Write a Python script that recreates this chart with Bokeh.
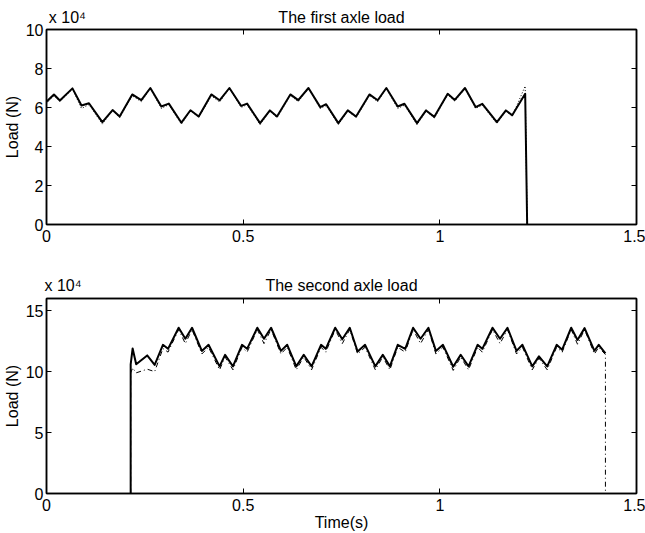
from bokeh.plotting import figure
from bokeh.layouts import column
from bokeh.models import FixedTicker, CustomJSTickFormatter, LinearAxis, Range1d
from bokeh.embed import file_html
from bokeh.resources import INLINE

# ---------------- data (loads in units of 1e4 N) ----------------
x_ticks = [0, 0.5, 1, 1.5]
y1_ticks = [0, 2, 4, 6, 8, 10]
y2_ticks = [0, 5, 10, 15]
titles = ["The first axle load", "The second axle load"]
exponent = "x 10\u2074"
y_label = "Load (N)"
x_label = "Time(s)"

t1 = [0.0, 0.019, 0.034, 0.066, 0.089, 0.108, 0.142, 0.168, 0.186,
      0.218, 0.241, 0.264, 0.292, 0.311, 0.343, 0.366, 0.387,
      0.419, 0.44, 0.465, 0.495, 0.51, 0.543, 0.568, 0.586,
      0.62, 0.64, 0.666, 0.696, 0.711, 0.742, 0.766, 0.787,
      0.821, 0.842, 0.864, 0.893, 0.91, 0.942, 0.965, 0.986,
      1.02, 1.038, 1.064, 1.091, 1.108, 1.145, 1.168, 1.184,
      1.217, 1.222]
load1 = [6.3, 6.67, 6.36, 6.98, 6.1, 6.22, 5.25, 5.87, 5.54,
         6.67, 6.38, 7.0, 6.05, 6.2, 5.22, 5.86, 5.54,
         6.67, 6.37, 7.0, 6.08, 6.2, 5.2, 5.85, 5.54,
         6.67, 6.38, 7.0, 6.02, 6.17, 5.2, 5.85, 5.54,
         6.67, 6.37, 7.0, 6.05, 6.19, 5.2, 5.85, 5.52,
         6.7, 6.39, 7.0, 6.02, 6.19, 5.25, 5.85, 5.6,
         6.7, 0.0]
load1_id = [6.2, 6.6, 6.3, 6.95, 5.95, 6.15, 5.15, 5.85, 5.48,
            6.6, 6.3, 6.98, 5.95, 6.15, 5.15, 5.85, 5.48,
            6.6, 6.28, 6.98, 6.0, 6.15, 5.12, 5.82, 5.48,
            6.62, 6.3, 6.98, 5.95, 6.1, 5.12, 5.82, 5.48,
            6.62, 6.3, 6.98, 5.95, 6.12, 5.12, 5.82, 5.46,
            6.65, 6.32, 6.98, 5.95, 6.12, 5.18, 5.82, 5.55,
            7.1, 0.0]

t2 = [0.214, 0.214, 0.219, 0.228, 0.256, 0.275, 0.296, 0.309,
      0.336, 0.353, 0.37, 0.395, 0.412, 0.44, 0.454, 0.474, 0.497, 0.51,
      0.536, 0.553, 0.571, 0.596, 0.612, 0.635, 0.654, 0.674, 0.698, 0.71,
      0.734, 0.752, 0.771, 0.791, 0.81, 0.836, 0.855, 0.873, 0.893, 0.912,
      0.932, 0.951, 0.971, 0.99, 1.008, 1.034, 1.053, 1.073, 1.096, 1.108,
      1.134, 1.153, 1.172, 1.195, 1.21, 1.235, 1.252, 1.273, 1.297, 1.311,
      1.334, 1.35, 1.368, 1.393, 1.404, 1.421]
load2 = [0.0, 10.6, 11.9, 10.6, 11.33, 10.55, 12.2, 11.87,
         13.6, 12.7, 13.6, 11.7, 12.2, 10.43, 11.38, 10.43, 12.2, 11.87,
         13.6, 12.7, 13.6, 11.7, 12.2, 10.43, 11.38, 10.43, 12.2, 11.87,
         13.6, 12.65, 13.6, 11.65, 12.2, 10.43, 11.38, 10.43, 12.2, 11.87,
         13.6, 12.7, 13.6, 11.7, 12.2, 10.4, 11.38, 10.43, 12.2, 11.87,
         13.6, 12.7, 13.6, 11.7, 12.2, 10.43, 11.25, 10.43, 12.2, 11.8,
         13.6, 12.6, 13.57, 11.71, 12.2, 11.5]
t2_id = t2 + [1.421]
load2_id = [0.0, 9.9, 10.3, 9.9, 10.2, 10.0, 11.9, 11.6,
            13.45, 12.3, 13.45, 11.45, 12.0, 10.15, 11.2, 10.15, 12.0, 11.6,
            13.45, 12.3, 13.45, 11.45, 12.0, 10.15, 11.2, 10.15, 12.0, 11.6,
            13.45, 12.3, 13.45, 11.45, 12.0, 10.15, 11.2, 10.15, 12.0, 11.6,
            13.45, 12.3, 13.45, 11.45, 12.0, 10.1, 11.2, 10.15, 12.0, 11.6,
            13.45, 12.3, 13.45, 11.45, 12.0, 10.15, 11.1, 10.15, 12.0, 11.6,
            13.45, 12.25, 13.45, 11.45, 12.0, 11.4, 0.0]

FONT = "Liberation Sans"
fmt_code = "return tick.toString();"


def style_axis(ax, ticks, show_labels=True):
    ax.ticker = FixedTicker(ticks=ticks)
    ax.major_tick_in = 5
    ax.major_tick_out = 0
    ax.minor_tick_line_color = None
    ax.axis_line_color = "black"
    ax.axis_line_width = 1.5
    ax.major_tick_line_color = "black"
    ax.major_tick_line_width = 1
    if show_labels:
        ax.formatter = CustomJSTickFormatter(code=fmt_code)
        ax.major_label_text_font = FONT
        ax.major_label_text_font_size = "16px"
        ax.major_label_text_color = "black"
    else:
        ax.major_label_text_font_size = "0px"
        ax.major_label_text_color = None
        ax.major_label_standoff = 0


def make(height, top, bottom, yend, yticks, title, exp_x, xlabel, head_standoff):
    p = figure(width=645, height=height, output_backend="svg", toolbar_location=None,
               x_range=Range1d(0, 1.5), y_range=Range1d(0, yend),
               min_border_left=45, min_border_right=9,
               min_border_top=top, min_border_bottom=bottom)
    p.grid.visible = False
    p.outline_line_color = "black"
    p.outline_line_width = 1.5
    p.background_fill_color = "white"
    p.border_fill_color = "white"

    style_axis(p.xaxis[0], x_ticks)
    p.xaxis[0].major_label_standoff = 5
    style_axis(p.yaxis[0], yticks)
    p.yaxis[0].major_label_standoff = 3
    p.yaxis[0].axis_label = y_label
    p.yaxis[0].axis_label_text_font = FONT
    p.yaxis[0].axis_label_text_font_size = "16px"
    p.yaxis[0].axis_label_text_font_style = "normal"
    p.yaxis[0].axis_label_text_color = "black"
    p.yaxis[0].axis_label_standoff = 2
    if xlabel:
        p.xaxis[0].axis_label = xlabel
        p.xaxis[0].axis_label_text_font = FONT
        p.xaxis[0].axis_label_text_font_size = "16px"
        p.xaxis[0].axis_label_text_font_style = "normal"
        p.xaxis[0].axis_label_text_color = "black"
        p.xaxis[0].axis_label_standoff = 0

    # MATLAB-style box ticks on right and top
    ra = LinearAxis()
    style_axis(ra, yticks, show_labels=False)
    p.add_layout(ra, "right")
    ta = LinearAxis()
    style_axis(ta, x_ticks, show_labels=False)
    p.add_layout(ta, "above")

    # heading row: exponent note (left) and title (centred) on one line
    head_ticks = [exp_x, 0.75]
    head_texts = [exponent, title]
    ha = LinearAxis(ticker=FixedTicker(ticks=head_ticks),
                    formatter=CustomJSTickFormatter(args=dict(tk=head_ticks, tx=head_texts),
                                                    code="return tx[tk.indexOf(tick)];"))
    ha.axis_line_color = None
    ha.major_tick_line_color = None
    ha.minor_tick_line_color = None
    ha.major_tick_in = 0
    ha.major_tick_out = 0
    ha.major_label_standoff = head_standoff
    ha.major_label_text_font = FONT
    ha.major_label_text_font_size = "16px"
    ha.major_label_text_color = "black"
    p.add_layout(ha, "above")
    return p


p1 = make(260, 29, 36, 10, y1_ticks, titles[0], 0.053, None, 4)
p1.line(t1, load1_id, line_color="black", line_width=1, line_dash="1 2")
p1.line(t1, load1, line_color="black", line_width=2, line_join="round")

p2 = make(273, 38, 40, 16, y2_ticks, titles[1], 0.042, x_label, 5)
p2.line(t2_id, load2_id, line_color="black", line_width=1, line_dash="5 3 1 3")
p2.line(t2, load2, line_color="black", line_width=2, line_join="round")

layout = column(p1, p2, spacing=0)
open("out.html", "w").write(file_html(layout, INLINE))
